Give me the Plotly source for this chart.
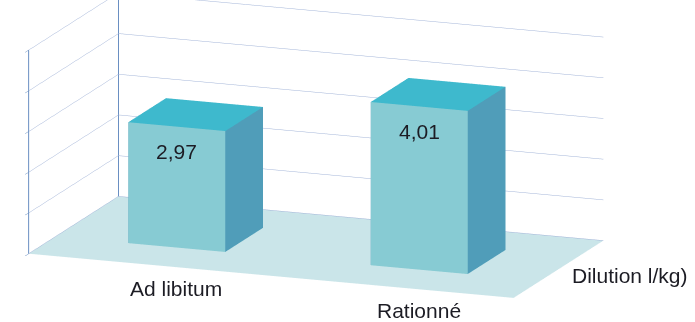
import plotly.graph_objects as go

# Chart data
categories = ["Ad libitum", "Rationné"]
values = [2.97, 4.01]
value_labels = ["2,97", "4,01"]
series_name = "Dilution l/kg)"
z_ticks = [0, 1, 2, 3, 4, 5]

# Geometry of the 3D column layout (category units)
BAR_HALF = 0.2
BAR_FRONT, BAR_BACK = 0.3, 0.72
X_RANGE = [-0.5, len(categories) - 0.5]
Y_RANGE = [0.0, 1.0]
Z_RANGE = [z_ticks[0], z_ticks[-1]]
LABEL_DROP = 0.62  # value labels sit this far below the column top

FRONT_COLOR = "#87CBD3"
TOP_COLOR = "#3EB9CD"
SIDE_COLOR = "#509DB9"
FLOOR_COLOR = "#CAE5E9"
GRID_COLOR = "#A3B4D8"
AXIS_COLOR = "#6A8FC2"
TEXT_FONT = dict(size=21, color="#1c1c24", family="Liberation Sans, Arial")

SCALE = 1.61


def column_mesh(xc, h):
    x0, x1 = xc - BAR_HALF, xc + BAR_HALF
    y0, y1 = BAR_FRONT, BAR_BACK
    xs = [x0, x1, x1, x0, x0, x1, x1, x0]
    ys = [y0, y0, y1, y1, y0, y0, y1, y1]
    zs = [0, 0, 0, 0, h, h, h, h]
    tris = [
        (0, 1, 5, FRONT_COLOR), (0, 5, 4, FRONT_COLOR),
        (1, 2, 6, SIDE_COLOR), (1, 6, 5, SIDE_COLOR),
        (4, 5, 6, TOP_COLOR), (4, 6, 7, TOP_COLOR),
        (3, 2, 6, SIDE_COLOR), (3, 6, 7, SIDE_COLOR),
        (0, 3, 7, SIDE_COLOR), (0, 7, 4, SIDE_COLOR),
        (0, 1, 2, FRONT_COLOR), (0, 2, 3, FRONT_COLOR),
    ]
    return go.Mesh3d(
        x=xs, y=ys, z=zs,
        i=[t[0] for t in tris], j=[t[1] for t in tris], k=[t[2] for t in tris],
        facecolor=[t[3] for t in tris],
        flatshading=True,
        lighting=dict(ambient=1, diffuse=0, specular=0, roughness=1, fresnel=0),
        hoverinfo="skip",
        showscale=False,
    )


fig = go.Figure()
for idx, v in enumerate(values):
    fig.add_trace(column_mesh(idx, v))

# vertical edge where the side wall meets the back wall
fig.add_trace(go.Scatter3d(
    x=[X_RANGE[0], X_RANGE[0]], y=[Y_RANGE[1], Y_RANGE[1]], z=Z_RANGE,
    mode="lines", line=dict(color=AXIS_COLOR, width=2),
    hoverinfo="skip", showlegend=False,
))

annotations = []
for idx, (v, lab) in enumerate(zip(values, value_labels)):
    annotations.append(dict(
        x=idx, y=BAR_FRONT, z=v - LABEL_DROP, text=lab, showarrow=False,
        font=TEXT_FONT,
    ))
for idx, cat in enumerate(categories):
    annotations.append(dict(
        x=idx, y=Y_RANGE[0], z=0, text=cat, showarrow=False,
        xshift=26, yshift=-24,
        font=TEXT_FONT,
    ))
annotations.append(dict(
    x=X_RANGE[1], y=0.5, z=0, text=series_name, showarrow=False,
    xanchor="left", xshift=11, yshift=-6,
    font=TEXT_FONT,
))

axis_common = dict(showticklabels=False, title=dict(text=""), showspikes=False,
                   zeroline=False)

fig.update_layout(
    width=695, height=322,
    margin=dict(l=0, r=0, t=0, b=0),
    paper_bgcolor="white",
    showlegend=False,
    scene=dict(
        domain=dict(x=[0, 0.91], y=[0, 1]),
        bgcolor="white",
        xaxis=dict(range=X_RANGE, showgrid=False, showbackground=False,
                   showline=False, ticks="", **axis_common),
        yaxis=dict(range=Y_RANGE, showgrid=False, showbackground=False,
                   showline=False, ticks="", **axis_common),
        zaxis=dict(range=Z_RANGE, tickvals=z_ticks, showgrid=True,
                   gridcolor=GRID_COLOR, gridwidth=1,
                   showbackground=True, backgroundcolor=FLOOR_COLOR,
                   showline=True, linecolor=AXIS_COLOR, linewidth=2,
                   ticks="outside", ticklen=6, tickcolor=AXIS_COLOR,
                   **axis_common),
        aspectmode="manual",
        aspectratio=dict(x=2.0 * SCALE, y=0.98 * SCALE, z=0.809 * SCALE),
        camera=dict(eye=dict(x=1.38, y=-3.65, z=0.87),
                    up=dict(x=0, y=0, z=1),
                    center=dict(x=0, y=0, z=-0.1),
                    projection=dict(type="orthographic")),
        annotations=annotations,
    ),
)

fig.write_html("out.html")
